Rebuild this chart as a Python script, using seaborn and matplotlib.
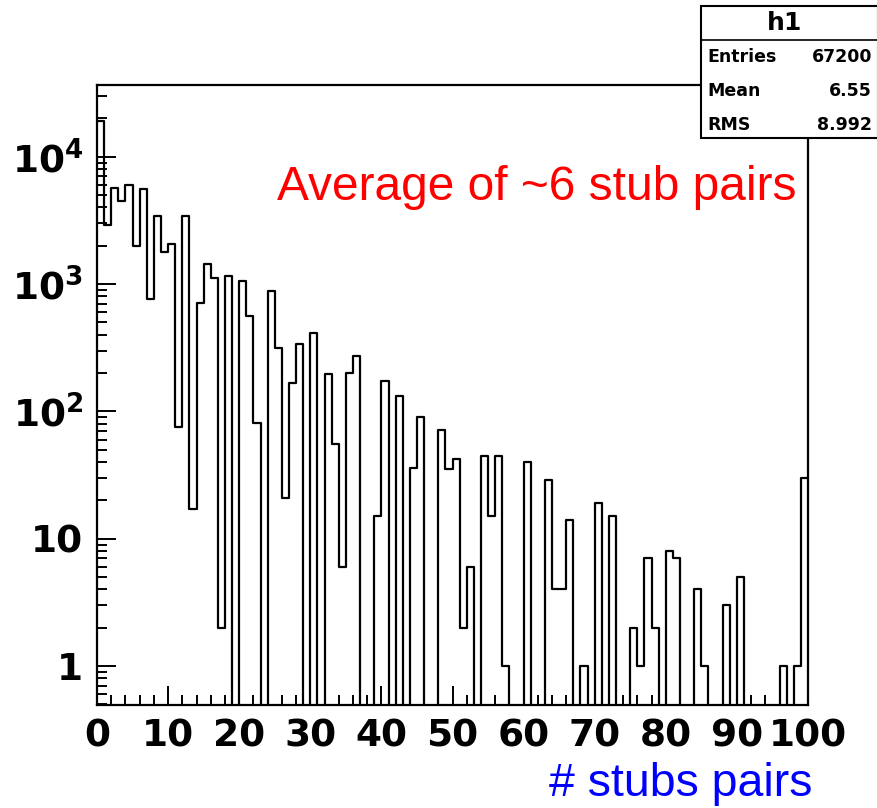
import numpy as np
import pandas as pd
import matplotlib
matplotlib.use("Agg")
import matplotlib.pyplot as plt
import seaborn as sns
from matplotlib.patches import Rectangle
from matplotlib.lines import Line2D
from matplotlib.ticker import FixedLocator, MultipleLocator, LogLocator, NullFormatter

# ---- data ----
bin_left = list(range(100))
counts = [19200, 2900, 5700, 4500, 6000, 2000, 5600, 770, 3400, 1800,
          2070, 75, 3430, 17, 707, 1430, 1120, 2, 1160, 0,
          1060, 565, 81, 0, 883, 315, 21, 166, 339, 0,
          415, 0, 197, 55, 6, 199, 272, 0, 0, 15,
          174, 0, 133, 0, 36, 90, 0, 0, 71, 35,
          42, 2, 6, 0, 45, 15, 45, 1, 0, 0,
          40, 0, 0, 29, 4, 4, 14, 0, 1, 0,
          19, 0, 15, 0, 0, 2, 1, 7, 2, 0,
          8, 7, 0, 0, 4, 1, 0, 0, 3, 0,
          5, 0, 0, 0, 0, 0, 1, 0, 1, 30]
x_ticks = [0, 10, 20, 30, 40, 50, 60, 70, 80, 90, 100]
x_tick_labels = ["0", "10", "20", "30", "40", "50", "60", "70", "80", "90", "100"]
y_ticks = [1, 10, 100, 1000, 10000]
y_tick_labels = ["1", "10", r"$10^{2}$", r"$10^{3}$", r"$10^{4}$"]
stats_title = "h1"
stats_names = ["Entries", "Mean", "RMS"]
stats_values = ["67200", "6.55", "8.992"]
annotation = "Average of ~6 stub pairs"
x_label = "# stubs pairs"

# ---- style ----
sns.set_theme(style="white")
plt.rcParams["font.family"] = ["Liberation Sans", "DejaVu Sans"]
plt.rcParams["text.color"] = "black"
plt.rcParams["mathtext.fontset"] = "custom"
plt.rcParams["mathtext.rm"] = "DejaVu Sans:bold"
plt.rcParams["mathtext.bf"] = "DejaVu Sans:bold"
plt.rcParams["mathtext.it"] = "DejaVu Sans:bold"

W, H = 878, 808
fig = plt.figure(figsize=(W / 100, H / 100), dpi=100)
fig.patch.set_facecolor("white")
ax = fig.add_axes([97 / W, 1 - 705 / H, (808 - 97) / W, (705 - 85) / H])
ax.set_facecolor("white")

df = pd.DataFrame({"x": np.array(bin_left) + 0.5, "w": counts})
sns.histplot(data=df, x="x", weights="w", binwidth=1, binrange=(0, 100),
             element="step", fill=False, color="black", linewidth=1.6, ax=ax)
ax.set_yscale("log")
ax.set_xlim(0, 100)
ax.set_ylim(0.494, 36600)

for s in ax.spines.values():
    s.set_visible(True)
    s.set_color("black")
    s.set_linewidth(1.6)

ax.xaxis.set_major_locator(FixedLocator(x_ticks))
ax.set_xticklabels(x_tick_labels)
ax.xaxis.set_minor_locator(MultipleLocator(2))
ax.yaxis.set_major_locator(FixedLocator(y_ticks))
ax.set_yticklabels(y_tick_labels)
ax.yaxis.set_minor_locator(LogLocator(base=10, subs=np.arange(2, 10), numticks=20))
ax.yaxis.set_minor_formatter(NullFormatter())

ax.tick_params(axis="both", which="both", direction="in", color="black",
               bottom=True, left=True, top=False, right=False)
ax.tick_params(axis="x", which="major", length=14, width=1.4, pad=10,
               labelsize=27)
ax.tick_params(axis="x", which="minor", length=7, width=1.4)
ax.tick_params(axis="y", which="major", length=14, width=1.4, pad=10,
               labelsize=27)
ax.tick_params(axis="y", which="minor", length=7, width=1.4)
for lab in ax.get_xticklabels() + ax.get_yticklabels():
    lab.set_family(["DejaVu Sans"])
    lab.set_fontweight("bold")
    lab.set_color("black")
ax.set_xlabel("")
ax.set_ylabel("")

# annotation and axis title
fig.text(797 / W, 1 - 188 / H, annotation, color="red", fontsize=34.5,
         ha="right", va="center")
fig.text(812 / W, 1 - 784 / H, x_label, color="blue", fontsize=33.5,
         ha="right", va="center")

# stats box
box = Rectangle((701 / W, 1 - 138 / H), (W - 701) / W, (138 - 6) / H,
                transform=fig.transFigure, facecolor="white",
                edgecolor="black", linewidth=1.5, zorder=10)
fig.patches.append(box)
fig.lines.append(Line2D([701 / W, 1.0], [1 - 39.5 / H, 1 - 39.5 / H],
                        transform=fig.transFigure, color="black",
                        linewidth=1.2, zorder=11))
fig.text(785 / W, 1 - 23 / H, stats_title, fontsize=18, fontweight="bold",
         family=["DejaVu Sans"], color="black", ha="center", va="center", zorder=12)
for i, (n, v) in enumerate(zip(stats_names, stats_values)):
    yy = 1 - (57 + 34 * i) / H
    fig.text(707 / W, yy, n, fontsize=12.5, fontweight="bold", color="black",
             family=["DejaVu Sans"], ha="left", va="center", zorder=12)
    fig.text(872 / W, yy, v, fontsize=12.5, fontweight="bold", color="black",
             family=["DejaVu Sans"], ha="right", va="center", zorder=12)

fig.savefig("out.png", dpi=100)
